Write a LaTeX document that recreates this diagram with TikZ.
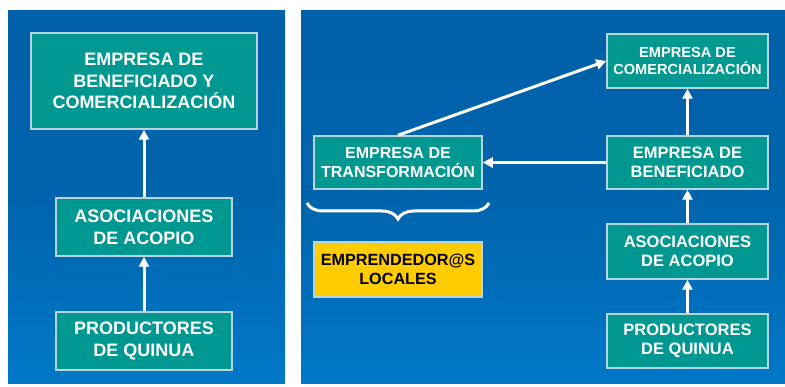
\documentclass[tikz,border=0pt]{standalone}
\usepackage{fontspec}
\setmainfont{Liberation Sans}
\usetikzlibrary{arrows.meta,decorations.pathreplacing}
\definecolor{panelTop}{HTML}{0060A8}
\definecolor{panelMid}{HTML}{0064AC}
\definecolor{panelBot}{HTML}{0078C8}
\definecolor{boxTeal}{HTML}{009890}
\definecolor{boxEdge}{HTML}{B8D4DE}
\definecolor{boxYellow}{HTML}{FFCC00}
\tikzset{
  panel/.style={draw=none, top color=panelTop, bottom color=panelBot, middle color=panelMid},
  tealbox/.style={draw=boxEdge, line width=1.5pt, fill=boxTeal, text=white, align=center, inner sep=0pt, font=\bfseries},
  yellowbox/.style={draw=boxEdge, line width=1.5pt, fill=boxYellow, text=black, align=center, inner sep=0pt, font=\bfseries},
  flow/.style={draw=white, line width=3pt, -{Triangle[width=10pt,length=10pt]}},
}
\begin{document}
\begin{tikzpicture}[x=1pt,y=-1pt]
\useasboundingbox (0,0) rectangle (785,387);
\fill[white] (0,0) rectangle (785,387);
\shade[panel] (8,11) rectangle (285,384);
\shade[panel] (301,11) rectangle (785,384);

% left panel
\node[tealbox, minimum width=226pt, minimum height=96pt, font=\fontsize{18}{21.7}\selectfont\bfseries] (L1) at (144,81) {EMPRESA DE\\BENEFICIADO Y\\COMERCIALIZACIÓN};
\node[tealbox, minimum width=176pt, minimum height=58pt, font=\fontsize{18}{21.7}\selectfont\bfseries] (L2) at (144,227) {ASOCIACIONES\\DE ACOPIO};
\node[tealbox, minimum width=176pt, minimum height=58pt, font=\fontsize{18}{21.7}\selectfont\bfseries] (L3) at (144,341) {PRODUCTORES\\DE QUINUA};
\draw[flow] (L3.north) -- (L2.south);
\draw[flow] (L2.north) -- (L1.south);

% right panel
\node[tealbox, minimum width=161pt, minimum height=54pt, font=\fontsize{14.6}{17.3}\selectfont\bfseries] (R1) at (687.5,61) {EMPRESA DE\\COMERCIALIZACIÓN};
\node[tealbox, minimum width=161pt, minimum height=53pt, font=\fontsize{16.5}{19}\selectfont\bfseries] (R2) at (687.5,162.5) {EMPRESA DE\\BENEFICIADO};
\node[tealbox, minimum width=161pt, minimum height=55pt, font=\fontsize{16.5}{19}\selectfont\bfseries] (R3) at (687.5,251.5) {ASOCIACIONES\\DE ACOPIO};
\node[tealbox, minimum width=161pt, minimum height=54pt, font=\fontsize{16.5}{19}\selectfont\bfseries] (R4) at (687.5,341) {PRODUCTORES\\DE QUINUA};
\node[tealbox, minimum width=168pt, minimum height=53pt, font=\fontsize{16}{19}\selectfont\bfseries] (T) at (398,162.5) {EMPRESA DE\\TRANSFORMACIÓN};
\node[yellowbox, minimum width=168pt, minimum height=55pt, font=\fontsize{16.2}{19}\selectfont\bfseries] (Y) at (398,269.5) {EMPRENDEDOR@S\\LOCALES};

\draw[flow] (R4.north) -- (R3.south);
\draw[flow] (R3.north) -- (R2.south);
\draw[flow] (R2.north) -- (R1.south);
\draw[flow] (R2.west) -- (T.east);
\draw[flow] (T.north) -- (R1.west);

% brace
\coordinate (bl) at (307,203);
\coordinate (br) at (489,203);
\draw[white, line width=3pt, decorate, decoration={brace, amplitude=16pt, aspect=0.5}] (br) -- (bl);
\end{tikzpicture}
\end{document}
